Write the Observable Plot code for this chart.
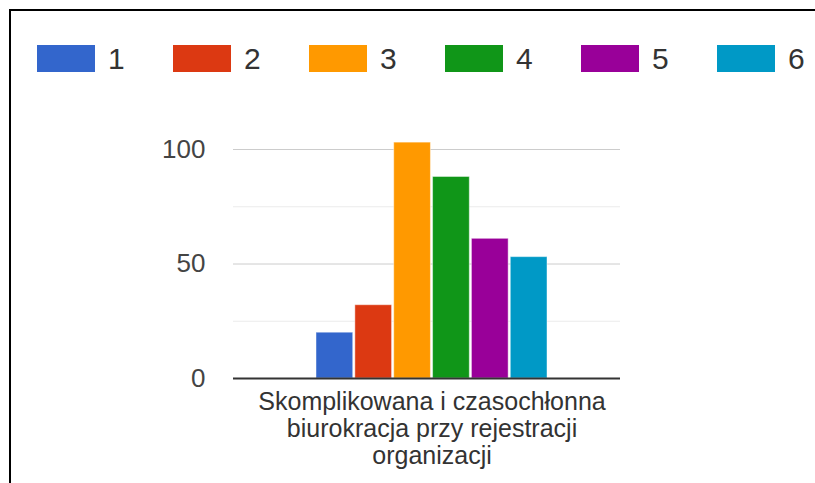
<!DOCTYPE html>
<html>
<head>
<meta charset="utf-8">
<script src="https://cdn.jsdelivr.net/npm/d3@7"></script>
<script src="https://cdn.jsdelivr.net/npm/@observablehq/plot@0.6"></script>
<style>
  html, body { margin: 0; padding: 0; background: #fff; width: 815px; height: 483px; overflow: hidden; }
  body { font-family: "Liberation Sans", Arial, sans-serif; position: relative; }
  #frame { position: absolute; left: 9px; top: 9px; right: -5px; bottom: -5px; border-left: 2px solid #000; border-top: 2px solid #000; }
  #chart { position: absolute; left: 0; top: 0; }
  #legend { position: absolute; left: 0; top: 45px; height: 27px; }
  .item { position: absolute; top: 0; height: 27px; }
  .sw { position: absolute; left: 0; top: 0; width: 58px; height: 27px; }
  .lb { position: absolute; left: 71px; top: -3px; font-size: 30px; line-height: 33px; color: #333; }
</style>
</head>
<body>
<div id="chart"></div>
<div id="frame"></div>
<div id="legend"></div>
<script>
const categories = ["Skomplikowana i czasochłonna biurokracja przy rejestracji organizacji"];
const series = ["1", "2", "3", "4", "5", "6"];
const values = [20, 32, 103, 88, 61, 53];
const colors = ["#3366cc", "#dc3912", "#ff9900", "#109618", "#990099", "#0099c6"];
const yTicks = [0, 50, 100];
const yMinorGrid = [25, 75];

const data = series.map((s, i) => ({series: s, value: values[i], category: categories[0]}));

// Legend
const legend = document.getElementById("legend");
series.forEach((s, i) => {
  const item = document.createElement("div");
  item.className = "item";
  item.style.left = (37 + i * 136) + "px";
  const sw = document.createElement("div");
  sw.className = "sw";
  sw.style.background = colors[i];
  const lb = document.createElement("div");
  lb.className = "lb";
  lb.textContent = s;
  item.appendChild(sw);
  item.appendChild(lb);
  legend.appendChild(item);
});

const chart = Plot.plot({
  width: 815,
  height: 483,
  marginLeft: 233,
  marginRight: 195,
  marginTop: 100,
  marginBottom: 105,
  style: {fontFamily: "'Liberation Sans', Arial, sans-serif", background: "transparent", overflow: "visible"},
  x: {type: "band", domain: series, range: [316, 547], paddingInner: 0.055, paddingOuter: 0, round: false, axis: null},
  y: {domain: [0, 100], range: [378, 149], axis: null},
  color: {domain: series, range: colors},
  marks: [
    Plot.ruleY(yMinorGrid, {stroke: "#ebebeb", strokeWidth: 1}),
    Plot.ruleY(yTicks.filter(d => d !== 0), {stroke: "#cccccc", strokeWidth: 1}),
    Plot.barY(data, {x: "series", y: "value", fill: "series", stroke: "#ffffff", strokeOpacity: 0.45, strokeWidth: 1}),
    Plot.ruleY([0], {stroke: "#333", strokeWidth: 2}),
    Plot.axisY({ticks: yTicks, tickSize: 0, tickPadding: 28, fontSize: 26, color: "#444", label: null}),
    Plot.text(categories, {
      text: d => d,
      frameAnchor: "bottom",
      textAnchor: "middle",
      lineAnchor: "top",
      lineWidth: 16,
      lineHeight: 1.08,
      dy: 12,
      dx: 5,
      fontSize: 25,
      fill: "#333"
    })
  ]
});
document.getElementById("chart").appendChild(chart);
</script>
</body>
</html>
